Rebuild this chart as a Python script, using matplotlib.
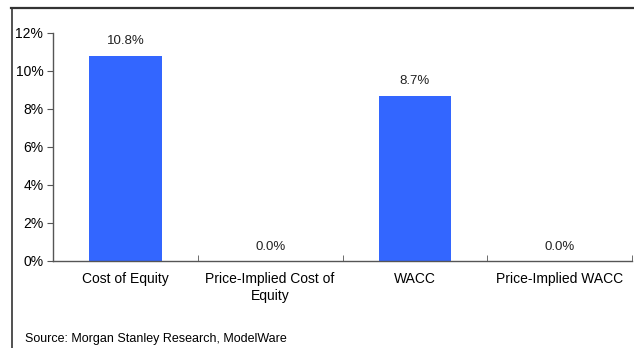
import matplotlib.pyplot as plt
from matplotlib.lines import Line2D
from matplotlib.ticker import FuncFormatter

categories = ["Cost of Equity", "Price-Implied Cost of\nEquity", "WACC", "Price-Implied WACC"]
values = [10.8, 0.0, 8.7, 0.0]

plt.rcParams["font.family"] = ["Liberation Sans", "DejaVu Sans"]

fig = plt.figure(figsize=(6.34, 3.48), dpi=100)
ax = fig.add_axes([53 / 634, 87 / 348, 579 / 634, 228 / 348])

x = range(len(categories))
bars = ax.bar(x, values, width=0.5, color="#3366FF", zorder=2)

for xi, v in zip(x, values):
    ax.annotate(f"{v:.1f}%", (xi, v), xytext=(0, 6), textcoords="offset points",
                ha="center", va="bottom", fontsize=9.5, color="#222222")

ax.set_xlim(-0.5, len(categories) - 0.5)
ax.set_ylim(0, 12)
ax.set_yticks(range(0, 13, 2))
ax.yaxis.set_major_formatter(FuncFormatter(lambda v, p: f"{v:.0f}%"))
ax.set_xticks(x)
ax.set_xticklabels(categories, fontsize=10, linespacing=1.3)
ax.set_xticks([i - 0.5 for i in range(len(categories) + 1)], minor=True)
ax.tick_params(axis="x", which="major", length=0, pad=8)
ax.tick_params(axis="x", which="minor", length=4, direction="in", color="#555555")
ax.tick_params(axis="y", length=4, direction="out", labelsize=10, color="#555555", pad=3)

for s in ["top", "right"]:
    ax.spines[s].set_visible(False)
for s in ["left", "bottom"]:
    ax.spines[s].set_color("#555555")
    ax.spines[s].set_linewidth(1)

fig.text(25 / 634, 1 - 339 / 348, "Source: Morgan Stanley Research, ModelWare",
         fontsize=9, va="center", ha="left")

# outer frame (top and left only)
fig.add_artist(Line2D([11 / 634, 1], [1 - 7.5 / 348, 1 - 7.5 / 348], color="#333333", lw=1.6))
fig.add_artist(Line2D([11.5 / 634, 11.5 / 634], [0, 1 - 7.5 / 348], color="#333333", lw=1.2))

fig.savefig("out.png", dpi=100)
